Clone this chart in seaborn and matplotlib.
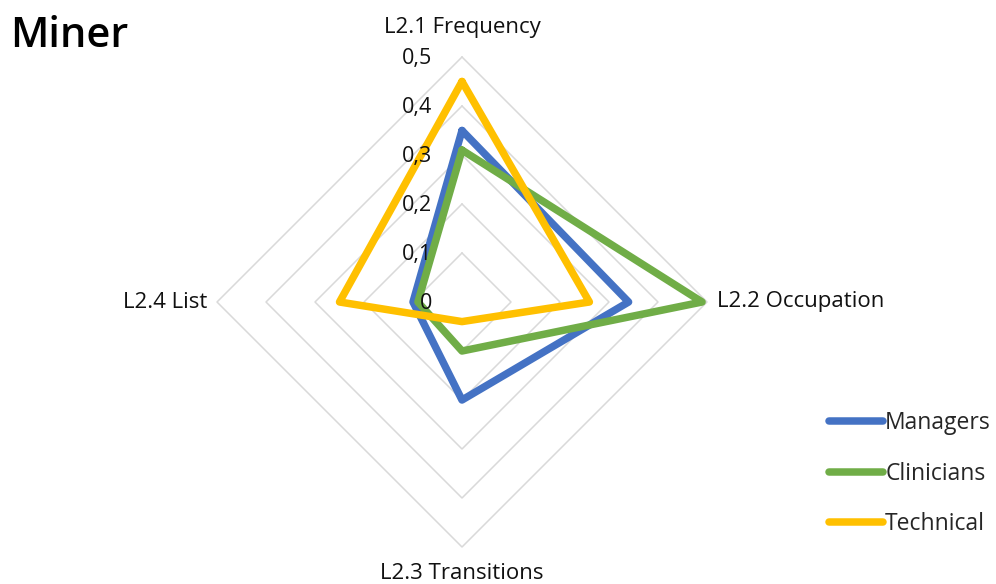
import numpy as np
import pandas as pd
import seaborn as sns
import matplotlib.pyplot as plt

# 坐标轴类别 (顺时针, 从上方开始)
categories = ['L2.1 Frequency', 'L2.2 Occupation', 'L2.3 Transitions', 'L2.4 List']
managers = [0.35, 0.34, 0.20, 0.10]
clinicians = [0.31, 0.49, 0.10, 0.09]
technical = [0.45, 0.26, 0.04, 0.25]
series_names = ['Managers', 'Clinicians', 'Technical']
ticks = [0, 0.1, 0.2, 0.3, 0.4, 0.5]
tick_labels = ['0', '0,1', '0,2', '0,3', '0,4', '0,5']

sns.set_theme(style='white')
plt.rcParams['font.family'] = ['Open Sans', 'DejaVu Sans']

angles = np.arange(len(categories)) * 2 * np.pi / len(categories)


def to_xy(vals):
    # 雷达图极坐标 -> 直角坐标, 首尾闭合
    v = np.append(vals, vals[0])
    a = np.append(angles, angles[0])
    return v * np.sin(a), v * np.cos(a)


rows = []
for name, vals in zip(series_names, [managers, clinicians, technical]):
    xs, ys = to_xy(np.array(vals))
    for i, (x, y) in enumerate(zip(xs, ys)):
        rows.append({'series': name, 'order': i, 'x': x, 'y': y})
df = pd.DataFrame(rows)

fig = plt.figure(figsize=(9.96, 5.84), dpi=100)
ax = fig.add_axes([0, 0, 1, 1])
scale = 490.0
ax.set_xlim(-462 / scale, (996 - 462) / scale)
ax.set_ylim(-(584 - 302) / scale, 302 / scale)
ax.axis('off')

# 网格 (菱形)
for t in ticks[1:]:
    gx, gy = to_xy(np.full(len(categories), t))
    ax.plot(gx, gy, color='#D9D9D9', lw=1.1, zorder=1)

# 刻度标签
for t, lab in zip(ticks, tick_labels):
    ax.text(-0.061, t - 0.004, lab, ha='right', va='center', fontsize=15.5, color='#111111', zorder=5)

# 类别标签
lab_kw = dict(fontsize=16, color='#111111', va='center')
ax.text(0, 0.5 + 0.06, categories[0], ha='center', **lab_kw)
ax.text(0.5 + 0.02, 0, categories[1], ha='left', **lab_kw)
ax.text(0, -0.5 - 0.055, categories[2], ha='center', **lab_kw)
ax.text(-0.5 - 0.02, 0, categories[3], ha='right', **lab_kw)

palette = {'Managers': '#4472C4', 'Clinicians': '#70AD47', 'Technical': '#FFC000'}
sns.lineplot(data=df, x='x', y='y', hue='series', units='series', estimator=None,
             sort=False, palette=palette, lw=5.4, ax=ax, zorder=3, legend=False)

handles = [plt.Line2D([], [], color=palette[n], lw=5.4, solid_capstyle='round') for n in series_names]
ax.legend(handles, series_names, loc='upper left', bbox_to_anchor=(829 / 996, 1 - 411 / 584),
          bbox_transform=fig.transFigure, frameon=False, fontsize=16.5,
          handlelength=2.35, handletextpad=0.1, labelspacing=1.16, borderaxespad=0, borderpad=0)

fig.text(10 / 996, 1 - 36 / 584, 'Miner', ha='left', va='center', fontsize=30,
         fontweight='semibold', color='black')

fig.savefig('out.png', dpi=100)
